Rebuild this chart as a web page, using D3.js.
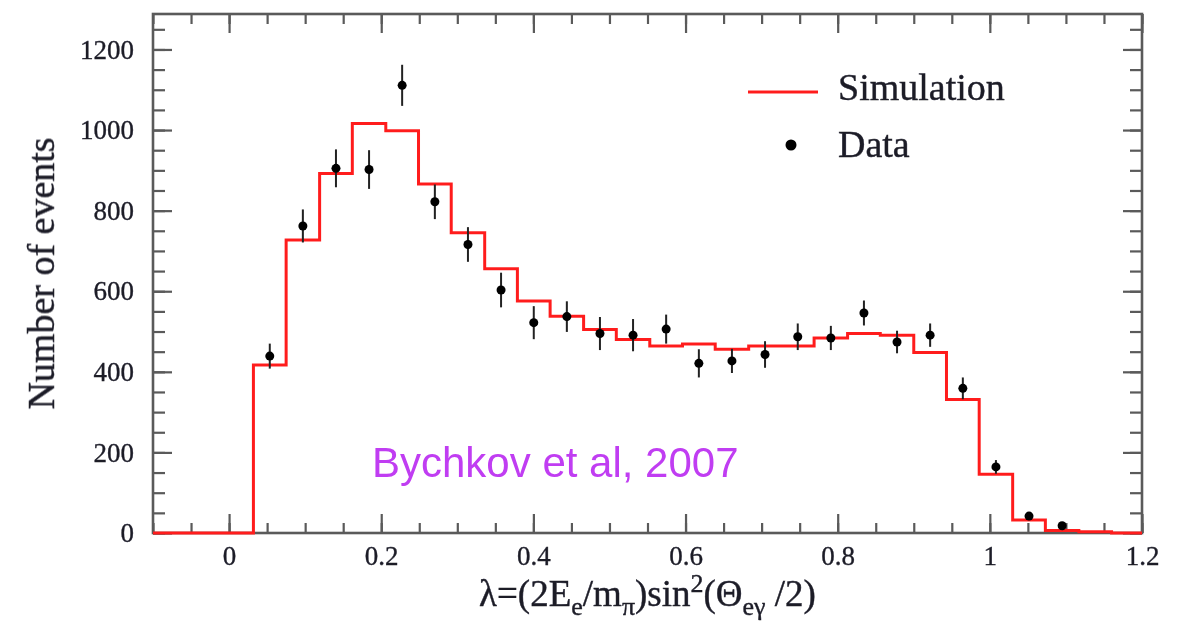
<!DOCTYPE html>
<html>
<head>
<meta charset="utf-8">
<script src="https://cdn.jsdelivr.net/npm/d3@7/dist/d3.min.js"></script>
<style>
  html, body { margin: 0; padding: 0; background: #fff; }
  svg { display: block; }
</style>
</head>
<body>
<svg id="chart" width="1184" height="627"></svg>
<script>
// Histogram bin edges in λ
const binEdges = [0.032, 0.075, 0.119, 0.162, 0.206, 0.249, 0.292, 0.336, 0.379,
  0.422, 0.466, 0.509, 0.553, 0.596, 0.639, 0.683, 0.726, 0.769, 0.813, 0.856,
  0.900, 0.943, 0.986, 1.030, 1.073, 1.117, 1.160];

// Simulated event counts per bin
const simulation = [417, 727, 892, 1016, 998, 866, 745, 656, 576, 538, 505, 480,
  464, 469, 456, 464, 464, 484, 495, 491, 448, 331, 146, 32, 6, 3];

// Measured event counts per bin and their uncertainties
const dataCounts = [439, 762, 905, 902, 1111, 822, 716, 603, 522, 537, 495, 491,
  506, 421, 427, 443, 487, 484, 546, 474, 491, 359, 164, 42, 18];
const dataErrors = [31, 41, 47, 48, 51, 43, 43, 43, 41, 38, 41, 40,
  36, 35, 30, 33, 33, 30, 31, 28, 29, 27, 17, 10, 7];

// Axis ticks
const xMajorTicks = [0, 0.2, 0.4, 0.6, 0.8, 1, 1.2];
const yMajorTicks = [0, 200, 400, 600, 800, 1000, 1200];

(function draw() {
  const svg = d3.select("#chart");
  const pLeft = 153, pRight = 1142, pTop = 14, pBottom = 533;

  // slight softening of the whole figure
  svg.append("defs").append("filter").attr("id", "soft")
    .append("feGaussianBlur").attr("stdDeviation", 0.55);
  const root = svg.append("g").attr("filter", "url(#soft)");

  const x = d3.scaleLinear().domain([-0.1, 1.2]).range([pLeft, pRight]);
  const y = d3.scaleLinear().domain([0, 1288]).range([pBottom, pTop]);

  const frameColor = "#5a5a5a";
  const textColor = "#1c1c28";
  const serif = "'Liberation Serif', 'Times New Roman', serif";

  const xMinor = d3.range(-0.1, 1.2001, 0.05).map(v => +v.toFixed(2));
  const yMinor = d3.range(0, 1288, 50);

  function styleAxis(g) {
    g.select(".domain").remove();
    g.selectAll(".tick line").attr("stroke", frameColor).attr("stroke-width", 2.2);
    g.selectAll(".tick text")
      .attr("fill", textColor)
      .attr("stroke", textColor).attr("stroke-width", 0.35)
      .style("font-family", serif)
      .style("font-size", "27px");
  }

  // Minor ticks on all four sides (pointing inward)
  root.append("g").attr("transform", `translate(0,${pBottom})`)
    .call(d3.axisBottom(x).tickValues(xMinor).tickSize(-10).tickFormat(""))
    .call(styleAxis);
  root.append("g").attr("transform", `translate(0,${pTop})`)
    .call(d3.axisTop(x).tickValues(xMinor).tickSize(-10).tickFormat(""))
    .call(styleAxis);
  root.append("g").attr("transform", `translate(${pLeft},0)`)
    .call(d3.axisLeft(y).tickValues(yMinor).tickSize(-12).tickFormat(""))
    .call(styleAxis);
  root.append("g").attr("transform", `translate(${pRight},0)`)
    .call(d3.axisRight(y).tickValues(yMinor).tickSize(-12).tickFormat(""))
    .call(styleAxis);

  // Major ticks with labels
  root.append("g").attr("transform", `translate(0,${pBottom})`)
    .call(d3.axisBottom(x).tickValues(xMajorTicks).tickSize(-19).tickPadding(13)
      .tickFormat(d => String(d)))
    .call(styleAxis);
  root.append("g").attr("transform", `translate(0,${pTop})`)
    .call(d3.axisTop(x).tickValues(xMajorTicks).tickSize(-19).tickFormat(""))
    .call(styleAxis);
  root.append("g").attr("transform", `translate(${pLeft},0)`)
    .call(d3.axisLeft(y).tickValues(yMajorTicks).tickSize(-19).tickPadding(19)
      .tickFormat(d => String(d)))
    .call(styleAxis);
  root.append("g").attr("transform", `translate(${pRight},0)`)
    .call(d3.axisRight(y).tickValues(yMajorTicks).tickSize(-19).tickFormat(""))
    .call(styleAxis);

  // Plot frame
  root.append("rect")
    .attr("x", pLeft).attr("y", pTop)
    .attr("width", pRight - pLeft).attr("height", pBottom - pTop)
    .attr("fill", "none").attr("stroke", frameColor).attr("stroke-width", 2.6);

  // Simulation histogram as a step line
  const stepPoints = [[-0.1, 0]]
    .concat(simulation.map((v, i) => [binEdges[i], v]))
    .concat([[binEdges[binEdges.length - 1], 0], [1.2, 0]]);
  const stepLine = d3.line()
    .x(d => x(d[0])).y(d => y(d[1]))
    .curve(d3.curveStepAfter);
  root.append("path")
    .datum(stepPoints)
    .attr("d", stepLine)
    .attr("fill", "none")
    .attr("stroke", "#ff1f1f")
    .attr("stroke-width", 3);

  // Data points with error bars
  const points = dataCounts.map((v, i) => ({
    lam: (binEdges[i] + binEdges[i + 1]) / 2,
    n: v,
    err: dataErrors[i]
  }));
  const pts = root.append("g");
  pts.selectAll("line")
    .data(points).join("line")
    .attr("x1", d => x(d.lam)).attr("x2", d => x(d.lam))
    .attr("y1", d => y(d.n - d.err)).attr("y2", d => y(d.n + d.err))
    .attr("stroke", "#222").attr("stroke-width", 2);
  pts.selectAll("circle")
    .data(points).join("circle")
    .attr("cx", d => x(d.lam)).attr("cy", d => y(d.n))
    .attr("r", 4.5).attr("fill", "#000");

  // Legend
  const legend = root.append("g");
  legend.append("line")
    .attr("x1", 748).attr("x2", 818).attr("y1", 92).attr("y2", 92)
    .attr("stroke", "#ff1f1f").attr("stroke-width", 3);
  legend.append("text")
    .attr("x", 838).attr("y", 100)
    .attr("fill", textColor).attr("stroke", textColor).attr("stroke-width", 0.4)
    .style("font-family", serif).style("font-size", "38px")
    .text("Simulation");
  legend.append("circle")
    .attr("cx", 791).attr("cy", 145).attr("r", 5.5).attr("fill", "#000");
  legend.append("text")
    .attr("x", 838).attr("y", 157)
    .attr("fill", textColor).attr("stroke", textColor).attr("stroke-width", 0.4)
    .style("font-family", serif).style("font-size", "38px")
    .text("Data");

  // Y axis title
  root.append("text")
    .attr("transform", `translate(54, ${(pTop + pBottom) / 2}) rotate(-90)`)
    .attr("text-anchor", "middle")
    .attr("fill", textColor).attr("stroke", textColor).attr("stroke-width", 0.4)
    .style("font-family", serif).style("font-size", "38px")
    .text("Number of events");

  // X axis title with sub/superscripts
  const xt = root.append("text")
    .attr("x", (pLeft + pRight) / 2).attr("y", 606)
    .attr("text-anchor", "middle")
    .attr("fill", textColor).attr("stroke", textColor).attr("stroke-width", 0.4)
    .style("font-family", serif).style("font-size", "37px");
  const parts = [
    ["λ=(2E", 0], ["e", 1], ["/m", 0], ["π", 1], [")sin", 0], ["2", -1],
    ["(Θ", 0], ["eγ", 1], [" /2)", 0]
  ];
  let prevShift = 0;
  parts.forEach(([t, s]) => {
    const shift = s === 1 ? 9 : s === -1 ? -14 : 0;
    xt.append("tspan")
      .attr("dy", shift - prevShift)
      .style("font-size", s === 0 ? "37px" : "26px")
      .text(t);
    prevShift = shift;
  });

  // Source annotation
  root.append("text")
    .attr("x", 372).attr("y", 477)
    .attr("fill", "#c03cf2")
    .style("font-family", "'Liberation Sans', Arial, sans-serif")
    .style("font-size", "42px")
    .text("Bychkov et al, 2007");
})();
</script>
</body>
</html>
